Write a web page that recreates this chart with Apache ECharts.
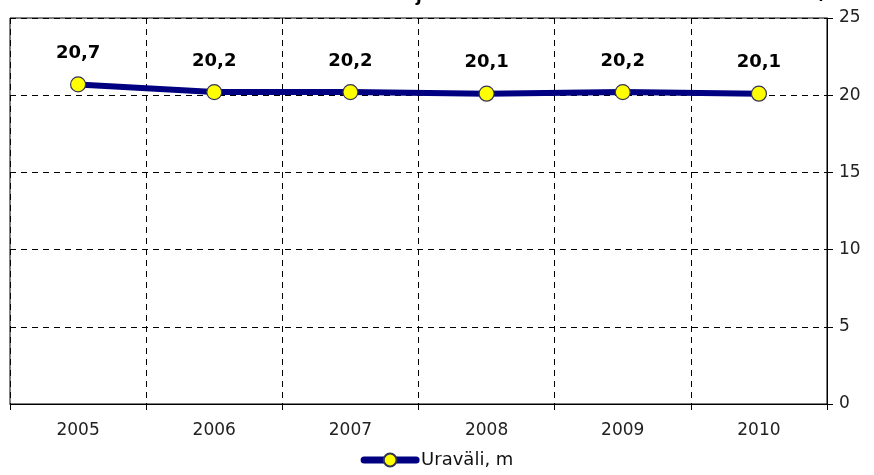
<!DOCTYPE html>
<html>
<head>
<meta charset="utf-8">
<script src="https://cdn.jsdelivr.net/npm/echarts@6/dist/echarts.min.js"></script>
<style>
  html, body { margin: 0; padding: 0; background: #fff; }
  #chart { width: 874px; height: 475px; }
</style>
</head>
<body>
<div id="chart"></div>
<script>
// data
const years = ['2005', '2006', '2007', '2008', '2009', '2010'];
const uravali = [20.7, 20.2, 20.2, 20.1, 20.2, 20.1];
const seriesName = 'Uraväli, m';

const chart = echarts.init(document.getElementById('chart'));

const dashed = { color: '#000', width: 1, type: [6, 5] };
const axisFont = { color: '#222', fontSize: 17, fontFamily: 'DejaVu Sans' };

chart.setOption({
  animation: false,
  backgroundColor: '#fff',
  // bottoms of the cut-off title glyphs
  graphic: [
    { type: 'text', left: 416, top: -12, style: { text: 'j', font: 'bold 17px DejaVu Sans', fill: '#000' } },
    { type: 'text', left: 816, top: -14, style: { text: '(', font: 'bold 17px DejaVu Sans', fill: '#000' } }
  ],
  grid: {
    left: 10, right: 47, top: 18, bottom: 71,
    show: true, borderColor: '#000', borderWidth: 1
  },
  legend: {
    bottom: 1,
    left: 'center',
    itemWidth: 52,
    itemHeight: 16,
    itemGap: 0,
    lineStyle: { color: '#000080', width: 7, cap: 'round' },
    textStyle: { color: '#111', fontSize: 18, fontFamily: 'DejaVu Sans', padding: [0, 0, 0, 0] },
    data: [seriesName]
  },
  xAxis: {
    type: 'category',
    data: years,
    boundaryGap: true,
    axisLine: { lineStyle: { color: '#000', width: 1 } },
    axisTick: { show: true, alignWithLabel: false, length: 6, lineStyle: { color: '#000' } },
    axisLabel: Object.assign({ margin: 18 }, axisFont),
    splitLine: { show: true, lineStyle: dashed }
  },
  yAxis: {
    type: 'value',
    position: 'right',
    min: 0, max: 25, interval: 5,
    axisLine: { show: true, lineStyle: { color: '#000', width: 1 } },
    axisTick: { show: true, length: 6, lineStyle: { color: '#000' } },
    axisLabel: Object.assign({ margin: 12 }, axisFont),
    splitLine: { show: true, lineStyle: dashed }
  },
  series: [
    {
      name: seriesName,
      type: 'line',
      data: uravali,
      symbol: 'circle',
      symbolSize: 15,
      lineStyle: { color: '#000080', width: 6 },
      itemStyle: { color: '#FFFF00', borderColor: '#333355', borderWidth: 1.2 },
      label: {
        show: true,
        position: 'top',
        distance: 14,
        color: '#000',
        fontSize: 18,
        fontWeight: 'bold',
        fontFamily: 'DejaVu Sans',
        formatter: p => p.value.toFixed(1).replace('.', ',')
      }
    }
  ]
});
</script>
</body>
</html>
